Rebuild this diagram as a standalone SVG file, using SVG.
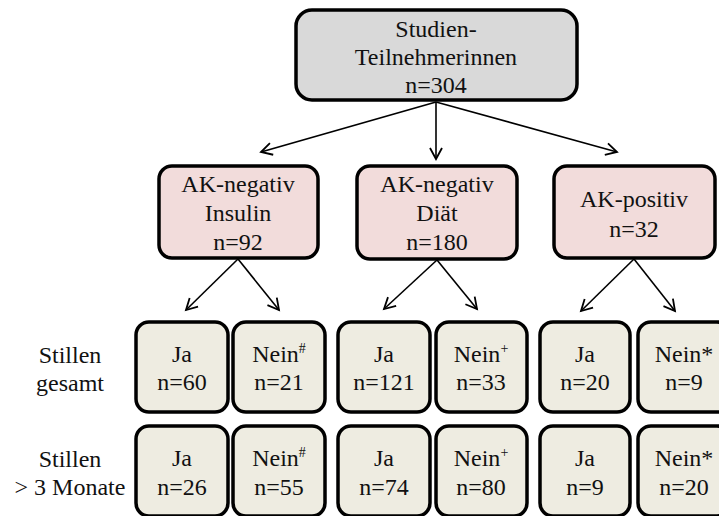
<svg xmlns="http://www.w3.org/2000/svg" width="719" height="516" viewBox="0 0 719 516" font-family="'Liberation Serif', 'Times New Roman', Times, 'DejaVu Serif', serif">
<style>
text{font-size:24px;fill:#111;text-anchor:middle}
.box{stroke:#000;stroke-width:3.5}
.top{fill:#d9d9d9}
.mid{fill:#f2dcdb}
.bot{fill:#eeece1}
.sup{font-size:14px}
#connectors line{stroke:#000;stroke-width:1.6;fill:none}
</style>
<defs>
<marker id="arr" markerUnits="userSpaceOnUse" markerWidth="16" markerHeight="16" refX="12" refY="7" orient="auto" viewBox="0 0 16 14">
<path d="M1,1 L12,7 L1,13" fill="none" stroke="#000" stroke-width="1.8"/>
</marker>
</defs>
<rect width="719" height="516" fill="#fff"/>
<g id="connectors">
<line x1="436" y1="102" x2="261" y2="152" marker-end="url(#arr)"/>
<line x1="436" y1="102" x2="436" y2="159" marker-end="url(#arr)"/>
<line x1="436" y1="102" x2="617" y2="152" marker-end="url(#arr)"/>
<line x1="238" y1="259" x2="186" y2="310" marker-end="url(#arr)"/>
<line x1="238" y1="259" x2="279" y2="310" marker-end="url(#arr)"/>
<line x1="437" y1="260" x2="384" y2="309" marker-end="url(#arr)"/>
<line x1="437" y1="260" x2="477" y2="309" marker-end="url(#arr)"/>
<line x1="634" y1="259" x2="581" y2="311" marker-end="url(#arr)"/>
<line x1="634" y1="259" x2="675" y2="311" marker-end="url(#arr)"/>
</g>
<g id="n_total">
<rect class="box top" x="296" y="10" width="281" height="90" rx="16"/>
<text x="436" y="37">Studien-</text>
<text x="436" y="65">Teilnehmerinnen</text>
<text x="436" y="93">n=304</text>
</g>
<g id="n_insulin">
<rect class="box mid" x="159" y="166" width="159" height="92" rx="13"/>
<text x="238" y="192">AK-negativ</text>
<text x="238" y="221">Insulin</text>
<text x="238" y="250">n=92</text>
</g>
<g id="n_diaet">
<rect class="box mid" x="357" y="166" width="160" height="93" rx="13"/>
<text x="437" y="192">AK-negativ</text>
<text x="437" y="221">Diät</text>
<text x="437" y="250">n=180</text>
</g>
<g id="n_positiv">
<rect class="box mid" x="554" y="166" width="161" height="92" rx="13"/>
<text x="634" y="207">AK-positiv</text>
<text x="634" y="237">n=32</text>
</g>
<g id="lbl_gesamt">
<text x="70" y="363">Stillen</text>
<text x="70" y="391">gesamt</text>
</g>
<g id="lbl_3m">
<text x="70" y="467">Stillen</text>
<text x="70" y="495">&gt; 3 Monate</text>
</g>
<g id="g1_ja">
<rect class="box bot" x="136" y="322" width="92" height="90" rx="13"/>
<text x="182" y="362">Ja</text>
<text x="182" y="390">n=60</text>
</g>
<g id="g1_nein">
<rect class="box bot" x="233" y="322" width="92" height="90" rx="13"/>
<text x="279" y="362">Nein<tspan class="sup" dy="-9">#</tspan></text>
<text x="279" y="390">n=21</text>
</g>
<g id="g2_ja">
<rect class="box bot" x="338" y="322" width="92" height="90" rx="13"/>
<text x="384" y="362">Ja</text>
<text x="384" y="390">n=121</text>
</g>
<g id="g2_nein">
<rect class="box bot" x="436" y="322" width="91" height="90" rx="13"/>
<text x="481" y="362">Nein<tspan class="sup" dy="-9">+</tspan></text>
<text x="481" y="390">n=33</text>
</g>
<g id="g3_ja">
<rect class="box bot" x="540" y="322" width="90" height="90" rx="13"/>
<text x="585" y="362">Ja</text>
<text x="585" y="390">n=20</text>
</g>
<g id="g3_nein">
<rect class="box bot" x="638" y="322" width="92" height="90" rx="13"/>
<text x="684" y="362">Nein*</text>
<text x="684" y="390">n=9</text>
</g>
<g id="g1_ja3">
<rect class="box bot" x="136" y="426" width="92" height="90" rx="13"/>
<text x="182" y="466">Ja</text>
<text x="182" y="495">n=26</text>
</g>
<g id="g1_nein3">
<rect class="box bot" x="233" y="426" width="92" height="90" rx="13"/>
<text x="279" y="466">Nein<tspan class="sup" dy="-9">#</tspan></text>
<text x="279" y="495">n=55</text>
</g>
<g id="g2_ja3">
<rect class="box bot" x="338" y="426" width="92" height="90" rx="13"/>
<text x="384" y="466">Ja</text>
<text x="384" y="495">n=74</text>
</g>
<g id="g2_nein3">
<rect class="box bot" x="436" y="426" width="91" height="90" rx="13"/>
<text x="481" y="466">Nein<tspan class="sup" dy="-9">+</tspan></text>
<text x="481" y="495">n=80</text>
</g>
<g id="g3_ja3">
<rect class="box bot" x="540" y="426" width="90" height="90" rx="13"/>
<text x="585" y="466">Ja</text>
<text x="585" y="495">n=9</text>
</g>
<g id="g3_nein3">
<rect class="box bot" x="638" y="426" width="92" height="90" rx="13"/>
<text x="684" y="466">Nein*</text>
<text x="684" y="495">n=20</text>
</g>
</svg>
